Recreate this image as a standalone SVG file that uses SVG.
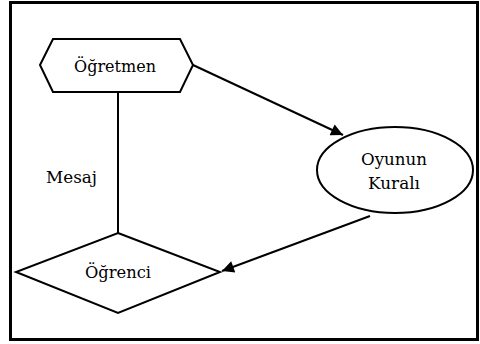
<svg xmlns="http://www.w3.org/2000/svg" width="480" height="344" viewBox="0 0 480 344">
<style>
.s{fill:#fff;stroke:#000;stroke-width:2}
text{font-family:'DejaVu Serif','Liberation Serif',serif;font-size:17px;fill:#000;text-anchor:middle}
.c{fill:none;stroke:#000;stroke-width:2}
</style>
<defs>
<marker id="ah2" viewBox="0 0 10 10" refX="10" refY="5" markerWidth="14" markerHeight="12" markerUnits="userSpaceOnUse" orient="auto"><path d="M0,0L10,5L0,10z" fill="#000"/></marker>
</defs>
<rect x="0" y="0" width="480" height="344" fill="#fff"/>
<rect x="10.5" y="2.5" width="467" height="337" fill="none" stroke="#000" stroke-width="3"/>
<g id="connectors">
<line class="c" x1="118" y1="92" x2="118" y2="233"/>
<line class="c" x1="193" y1="65" x2="343" y2="135" marker-end="url(#ah2)"/>
<line class="c" x1="370" y1="216" x2="222" y2="271" marker-end="url(#ah2)"/>
<text x="71.5" y="183" textLength="51" lengthAdjust="spacingAndGlyphs">Mesaj</text>
</g>
<g id="ogretmen">
<polygon class="s" points="40,65 53,39 180,39 193,65 180,92 53,92"/>
<text x="115" y="72" textLength="82" lengthAdjust="spacingAndGlyphs">Öğretmen</text>
</g>
<g id="oyunun-kurali">
<ellipse class="s" cx="395" cy="170" rx="78" ry="43"/>
<text x="394" y="165" textLength="66" lengthAdjust="spacingAndGlyphs">Oyunun</text>
<text x="394" y="189" textLength="52" lengthAdjust="spacingAndGlyphs">Kuralı</text>
</g>
<g id="ogrenci">
<polygon class="s" points="118,233 220,272 118,313 16,272"/>
<text x="118" y="278" textLength="66" lengthAdjust="spacingAndGlyphs">Öğrenci</text>
</g>
</svg>
